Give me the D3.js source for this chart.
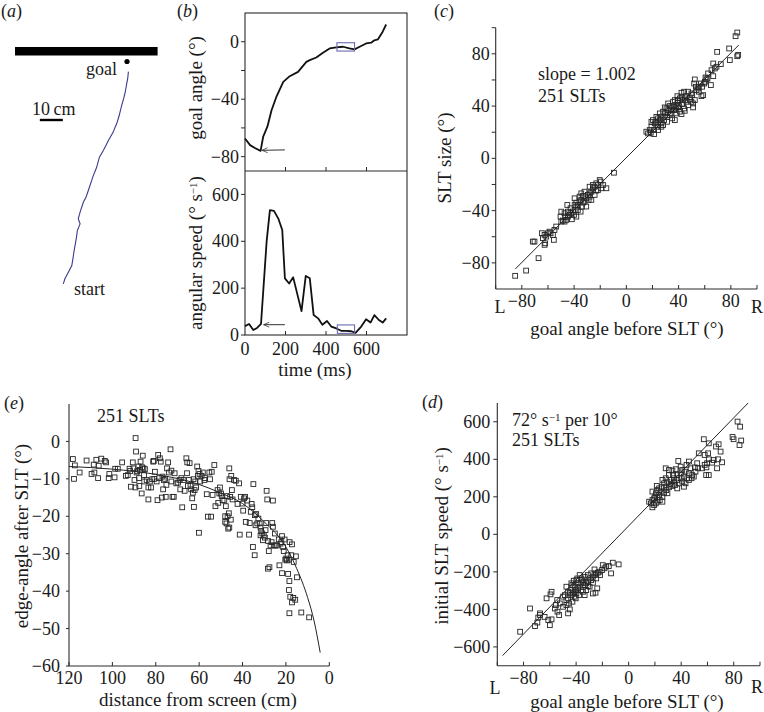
<!DOCTYPE html>
<html><head><meta charset="utf-8">
<script src="https://cdn.jsdelivr.net/npm/d3@7"></script>
<style>
body{margin:0;background:#fff}
svg text{font-family:"Liberation Serif","Times New Roman",serif;fill:#1a1a1a;font-size:18px}
svg text.title{font-size:19px}
</style>
</head><body>
<svg id="fig" width="764" height="712"></svg>
<script>
// ---------- DATA ----------
// (a) trajectory, in cm: [x along screen, distance from screen]
const trajectoryCm = [[49.3,7.0],[49.0,10.1],[48.6,12.0],[48.3,13.8],[47.9,16.0],[47.4,18.1],[46.4,21.7],[45.9,23.6],[45.3,26.1],[44.2,29.7],[43.6,31.0],[42.7,33.3],[40.6,37.0],[39.8,38.6],[38.4,41.3],[36.7,44.2],[36.2,46.0],[35.5,48.6],[33.8,52.9],[33.4,54.2],[32.6,56.5],[31.4,60.1],[30.8,61.8],[29.7,63.8],[28.3,68.1],[27.5,71.0],[28.3,73.2],[27.1,76.1],[26.8,78.5],[26.5,80.4],[25.7,84.8],[25.3,87.7],[24.7,91.3],[23.2,94.2],[21.7,97.1],[21.0,99.3]];
const screenBarCm = [0, 62];
const goalCm = [48.7, 2.6];

// (b) goal angle (deg) and angular speed (deg/s) vs time (ms)
const goalAngleSeries = [[0,-67.4],[25,-72],[49,-74],[77,-76],[90,-66],[111,-59],[131,-47.7],[156,-38],[189,-28],[221,-24],[262,-21],[303,-14],[320,-12.8],[352,-11],[385,-7.7],[418,-4.7],[451,-4],[484,-3.5],[516,-4.7],[541,-5.3],[566,-3.5],[598,-1.2],[623,-0.7],[639,1],[656,1.6],[680,7],[697,12]];
const angularSpeedSeries = [[0,38],[20,47],[41,21],[61,31],[79,47],[107,401],[123,533],[143,530],[164,498],[184,448],[197,242],[218,220],[238,246],[279,102],[300,252],[320,242],[339,85],[361,71],[382,44],[405,60],[426,36],[451,28],[475,18],[500,18],[525,16],[546,9],[574,36],[598,67],[620,53],[639,85],[661,64],[680,53],[697,71]];
const angleArrow = [[197,-75.3],[84,-75.6]];
const speedArrow = [[197,44],[92,44]];
const angleBox = [454,541,-6.5,-0.7];
const speedBox = [456,541,7,43];
const timeTicks = [0,200,400,600];
const goalAngleTicks = [-80,-60,-40,-20,0];
const goalAngleLabels = [-80,-40,0];
const speedTicks = [0,200,400,600];

// (c) SLT size vs goal angle before SLT
const slcPoints = [[84.9,96.3],[83.6,93.5],[78.7,84.1],[69.5,81.5],[85.6,79.2],[84.9,78.2],[79.2,75.2],[72.3,72.1],[66.5,72.6],[67.7,68.8],[69.0,70.1],[66.5,62.9],[60.6,61.9],[61.3,60.4],[59.6,57.3],[64.7,56.1],[58.0,54.8],[58.8,48.4],[52.4,60.4],[51.9,57.3],[53.2,54.8],[55.0,53.5],[51.1,42.0],[52.4,44.6],[49.8,49.7],[47.3,51.0],[46.0,47.6],[44.7,45.9],[43.5,44.6],[42.2,47.1],[40.9,45.9],[39.1,42.5],[38.3,40.0],[37.1,44.6],[36.3,39.0],[34.5,37.5],[33.2,40.0],[32.0,36.9],[30.7,38.2],[29.4,34.4],[28.1,35.7],[26.8,31.8],[25.6,29.3],[24.3,30.6],[23.0,28.0],[21.7,26.8],[20.4,29.3],[19.2,24.2],[17.9,21.7],[16.6,19.1],[15.3,20.4],[21.2,21.7],[23.8,24.2],[26.3,26.8],[28.9,29.3],[31.4,31.8],[34.0,34.4],[36.6,36.9],[39.6,39.0],[42.7,41.5],[46.0,43.3],[48.6,46.6],[50.4,48.4],[55.5,51.0],[57.0,57.3],[60.1,58.6],[62.1,61.1],[31.2,28.0],[35.0,30.6],[38.3,34.4],[40.9,35.7],[44.2,38.2],[47.3,40.8],[33.2,33.1],[26.8,24.2],[24.3,21.7],[21.2,18.6],[18.7,19.6],[23.0,31.8],[25.6,34.4],[29.4,39.0],[32.0,42.0],[35.8,43.3],[39.1,47.6],[42.2,50.2],[44.2,51.0],[48.6,45.1],[51.1,39.0],[55.5,54.8],[44.7,36.4],[42.2,33.9],[28.1,25.5],[24.3,25.5],[30.7,34.9],[34.5,40.0],[37.8,37.5],[40.4,40.0],[19.2,28.0],[26.3,29.8],[39.6,44.6],[37.1,29.3],[49.8,43.3],[53.7,52.2],[62.6,65.0],[65.2,67.5],[57.5,47.6],
[-9.5,-11.0],[-15.3,-22.9],[-20.4,-16.6],[-21.7,-20.4],[-23.0,-19.1],[-24.3,-21.7],[-25.6,-22.9],[-26.8,-25.5],[-28.1,-26.8],[-29.4,-28.0],[-30.7,-30.6],[-32.0,-25.5],[-33.2,-33.9],[-34.5,-31.8],[-35.8,-33.1],[-37.1,-35.7],[-38.3,-36.9],[-39.6,-39.5],[-40.9,-40.8],[-42.2,-42.0],[-43.5,-43.3],[-44.7,-44.6],[-46.0,-47.1],[-47.3,-48.4],[-48.6,-47.6],[-49.8,-40.8],[-50.4,-44.6],[-39.6,-30.6],[-38.3,-33.9],[-35.8,-29.3],[-32.0,-33.1],[-30.7,-36.9],[-28.9,-31.8],[-26.8,-31.8],[-24.3,-28.0],[-21.7,-24.2],[-19.2,-22.9],[-34.0,-36.9],[-37.1,-39.5],[-40.1,-43.3],[-42.7,-38.2],[-45.2,-35.7],[-47.3,-42.0],[-41.7,-46.6],[-44.7,-40.8],[-38.3,-44.6],[-35.0,-40.8],[-33.2,-28.8],[-28.1,-21.7],[-25.6,-20.4],[-23.0,-24.7],[-19.7,-17.8],[-17.9,-20.4],[-49.8,-48.4],[-46.8,-44.6],[-34.5,-26.8],[-39.6,-35.7],[-28.1,-29.3],
[-53.7,-52.2],[-55.0,-54.8],[-56.2,-58.6],[-58.0,-57.3],[-60.1,-57.3],[-61.3,-59.9],[-62.6,-58.6],[-64.7,-57.3],[-63.9,-61.1],[-62.1,-65.0],[-62.6,-66.2],[-55.5,-62.4],[-70.3,-63.7],[-71.6,-63.7],[-67.2,-76.4],[-76.7,-85.9],[-85.1,-89.9],[-58.8,-56.1]];
const slcFit = {slope:1.002, intercept:0.5, from:-85, to:86};
const angleTicks = [-100,-80,-60,-40,-20,0,20,40,60,80,100];
const angleLabels = [-80,-40,0,40,80];

// (e) edge-angle after SLT vs distance from screen
const edgePoints = [[118.2,-4.7],[117.3,-6.4],[117.7,-10.0],[115.1,-8.3],[111.9,-5.1],[109.6,-8.7],[108.6,-6.2],[108.3,-8.3],[107.4,-4.9],[106.6,-9.8],[106.3,-6.5],[105.1,-4.6],[103.5,-5.2],[102.9,-5.6],[101.7,-9.8],[101.4,-8.7],[98.7,-7.3],[99.0,-9.6],[97.5,-7.3],[95.5,-5.6],[93.8,-9.2],[92.9,-9.0],[92.1,-7.3],[91.8,-7.9],[91.5,-12.1],[90.6,-5.6],[90.3,-7.2],[89.8,-10.3],[89.4,-12.3],[89.3,0.9],[89.1,-2.7],[88.8,-8.3],[88.5,-7.9],[88.0,-6.7],[87.7,-9.8],[87.6,-11.9],[87.3,-7.6],[87.0,-5.4],[86.5,-13.9],[86.3,-6.9],[86.0,-3.8],[85.7,-7.2],[85.4,-9.0],[85.3,-10.7],[85.0,-7.4],[84.2,-10.3],[83.4,-15.5],[83.4,-12.3],[82.7,-10.7],[82.2,-12.3],[81.6,-10.1],[81.2,-5.4],[80.9,-5.2],[80.7,-10.0],[80.4,-8.1],[79.6,-10.7],[79.2,-15.7],[78.9,-3.6],[78.4,-9.8],[78.1,-4.5],[77.7,-5.4],[77.2,-15.0],[76.6,-12.8],[76.9,-9.4],[76.3,-10.3],[75.7,-10.0],[75.4,-14.8],[75.1,-11.6],[74.8,-7.2],[74.3,-5.6],[73.9,-8.3],[73.2,-2.1],[72.8,-7.8],[72.8,-10.7],[72.3,-14.8],[71.7,-14.8],[71.3,-8.5],[70.5,-11.2],[69.7,-11.0],[69.0,-10.3],[68.7,-12.8],[68.2,-9.8],[67.8,-17.6],[67.2,-10.3],[66.7,-13.2],[65.9,-4.5],[65.6,-8.5],[65.5,-5.6],[65.2,-11.9],[64.7,-10.3],[64.4,-5.8],[64.0,-11.9],[63.7,-12.8],[63.2,-15.2],[62.9,-13.7],[62.6,-10.1],[62.4,-17.5],[62.1,-13.0],[61.8,-10.7],[61.4,-12.3],[60.9,-6.7],[60.6,-9.2],[60.3,-7.9],[60.1,-24.4],[59.8,-8.7],[59.5,-10.7],[58.9,-9.2],[58.3,-8.3],[57.6,-10.3],[57.3,-9.8],[56.5,-14.1],[56.0,-20.1],[55.3,-8.3],[55.0,-10.1],[54.5,-20.1],[54.2,-8.1],[53.8,-14.3],[53.0,-6.3],[52.5,-17.3],[51.5,-13.0],[51.2,-16.4],[50.7,-13.9],[50.4,-12.3],[49.9,-13.9],[49.6,-14.6],[49.2,-15.7],[48.4,-15.8],[48.0,-20.0],[48.0,-21.5],[47.7,-17.3],[47.4,-21.9],[47.1,-14.6],[46.9,-20.0],[46.6,-23.3],[46.3,-19.2],[46.1,-7.2],[46.1,-23.0],[46.0,-10.1],[45.7,-14.8],[45.2,-9.2],[45.4,-20.9],[44.9,-13.0],[44.6,-15.5],[43.9,-10.3],[43.1,-10.5],[42.3,-16.7],[41.6,-11.2],[41.3,-24.9],[40.8,-14.8],[40.0,-16.6],[39.7,-18.5],[39.3,-15.2],[38.8,-14.8],[38.5,-21.5],[37.8,-15.8],[37.0,-24.9],[36.7,-21.8],[36.2,-18.8],[35.8,-16.7],[35.5,-17.6],[35.2,-28.2],[35.0,-11.4],[34.4,-30.4],[34.3,-19.7],[34.0,-22.4],[33.7,-19.4],[33.2,-21.9],[32.7,-20.6],[32.1,-21.9],[31.7,-25.1],[31.7,-23.0],[31.4,-23.9],[30.9,-24.6],[30.6,-26.4],[30.2,-25.1],[29.7,-25.7],[29.4,-23.7],[29.1,-21.8],[28.9,-13.2],[28.6,-15.5],[28.3,-34.0],[28.2,-26.6],[27.9,-29.3],[27.6,-33.6],[27.1,-27.8],[26.6,-26.9],[26.3,-21.8],[26.0,-15.8],[26.0,-22.8],[25.6,-27.8],[25.1,-24.6],[24.8,-27.8],[24.1,-27.8],[23.3,-26.2],[23.0,-33.1],[22.5,-27.3],[22.1,-26.9],[21.8,-25.3],[21.8,-35.2],[21.3,-28.2],[21.0,-29.3],[20.6,-26.2],[20.3,-31.6],[19.9,-31.3],[19.5,-31.8],[19.2,-30.4],[19.0,-35.4],[18.7,-31.6],[18.6,-39.7],[18.4,-45.9],[18.3,-26.9],[18.0,-41.5],[17.5,-30.4],[17.2,-27.5],[16.6,-41.8],[16.4,-32.2],[15.7,-42.3],[15.4,-30.7],[14.9,-36.3],[12.9,-45.7],[9.3,-47.0],[18.4,-37.3],[17.2,-43.0]];
const edgeFit = [[120,-6.7],[100,-7.4],[80,-8.8],[60,-11.5],[50,-13.8],[40,-16.6],[30,-21.5],[20,-28.2],[15,-34],[10,-41.7],[7,-48],[4.2,-56.4]];
const distTicks = [120,100,80,60,40,20,0];
const edgeTicks = [-60,-50,-40,-30,-20,-10,0];

// (d) initial SLT speed vs goal angle before SLT
const speedPoints = [[82.9,601],[84.9,574],[79.1,519],[79.9,507],[85.7,500],[84.4,476],[57.2,507],[61.0,485],[68.5,480],[70.0,441],[66.5,468],[53.4,432],[57.9,423],[60.5,432],[61.0,400],[64.8,396],[68.0,400],[71.1,384],[63.5,382],[59.7,379],[57.9,370],[52.2,379],[50.4,357],[52.9,352],[55.9,352],[59.2,357],[61.0,316],[59.0,316],[67.3,352],[45.9,388],[37.8,391],[39.6,361],[44.1,370],[28.2,352],[30.7,343],[33.3,340],[35.8,347],[40.8,343],[43.3,334],[45.9,325],[48.4,316],[49.6,308],[42.1,308],[39.6,299],[37.0,290],[34.5,299],[32.0,290],[29.5,281],[27.0,272],[25.2,254],[23.2,245],[21.9,236],[20.7,219],[20.2,201],[18.1,183],[16.9,165],[18.1,144],[19.4,156],[21.9,197],[23.7,183],[25.7,201],[27.0,219],[28.7,236],[30.7,251],[33.3,258],[35.3,263],[38.3,272],[40.8,281],[43.3,272],[45.9,290],[47.9,299],[21.4,258],[24.4,228],[28.2,251],[32.0,268],[37.0,316],[30.7,316],[25.7,290],[23.2,210],[21.9,174],[28.2,299],[33.8,316],[39.6,325],[44.6,299],[47.1,352],[50.9,334],[42.1,254],[37.0,245],[34.5,281],[29.5,219],[25.7,174],[19.4,192],[20.7,165],[15.6,174],[18.1,228],
[-7.6,-160],[-12.1,-151],[-13.4,-208],[-15.1,-169],[-17.1,-172],[-18.4,-181],[-19.7,-164],[-20.2,-190],[-21.7,-217],[-22.2,-199],[-23.4,-204],[-24.7,-235],[-24.7,-208],[-26.0,-217],[-27.2,-226],[-28.5,-244],[-29.7,-235],[-31.0,-252],[-32.3,-261],[-33.5,-270],[-34.3,-252],[-35.3,-244],[-36.0,-261],[-37.3,-279],[-38.5,-288],[-39.8,-297],[-41.1,-306],[-42.3,-315],[-43.6,-324],[-44.8,-311],[-46.1,-306],[-47.4,-279],[-48.6,-324],[-49.9,-332],[-46.1,-341],[-43.6,-297],[-41.1,-279],[-38.5,-261],[-36.0,-235],[-33.5,-226],[-31.0,-217],[-28.5,-208],[-26.0,-187],[-27.2,-258],[-29.7,-279],[-32.3,-297],[-34.8,-306],[-37.8,-324],[-40.3,-341],[-42.8,-359],[-45.4,-368],[-47.4,-350],[-39.8,-315],[-36.0,-297],[-31.0,-276],[-25.2,-311],[-27.2,-315],[-23.9,-288],[-33.5,-324],[-43.6,-261],[-41.8,-247],[-39.1,-235],[-49.9,-386],[-52.4,-368],[-54.4,-350],[-55.4,-377],[-58.7,-306],[-59.5,-320],[-62.5,-341],[-67.5,-421],[-68.8,-443],[-71.3,-489],[-75.1,-395],[-82.6,-519],[-61.2,-457],[-60.0,-484],[-58.7,-453],[-54.2,-412],[-52.9,-430],[-56.2,-395],[-47.4,-377],[-46.1,-421],[-44.8,-400],[-39.8,-244],[-37.3,-217],[-41.1,-332],[-42.8,-270],[-67.5,-430],[-64.0,-440],[-69.5,-470]];
const speedFit = {slope:7.2, intercept:45, from:-96, to:91};
const initSpeedTicks = [-600,-400,-200,0,200,400,600];

// ---------- DRAWING ----------
const svg = d3.select("#fig");
const INK = "#2b2b2b";
const fmt = v => v < 0 ? "\u2212" + Math.abs(v) : String(v);

function yAxis(scale, x, ticks, labels, opts = {}) {
  const len = opts.len ?? 4, pad = opts.pad ?? 6;
  const g = svg.append("g");
  if (opts.line !== false)
    g.append("line").attr("x1", x).attr("x2", x)
      .attr("y1", scale.range()[0]).attr("y2", scale.range()[1])
      .attr("stroke", INK).attr("stroke-width", 1.1);
  g.selectAll(".t").data(ticks).join("line")
    .attr("x1", x - len).attr("x2", x)
    .attr("y1", d => scale(d)).attr("y2", d => scale(d))
    .attr("stroke", INK).attr("stroke-width", 1);
  g.selectAll("text").data(labels).join("text")
    .attr("x", x - pad).attr("y", d => scale(d)).attr("dy", "0.34em")
    .attr("text-anchor", "end").text(fmt);
}
function xAxis(scale, y, ticks, labels, opts = {}) {
  const len = opts.len ?? 4, off = opts.off ?? 19;
  const g = svg.append("g");
  if (opts.line !== false)
    g.append("line").attr("y1", y).attr("y2", y)
      .attr("x1", scale.range()[0]).attr("x2", scale.range()[1])
      .attr("stroke", INK).attr("stroke-width", 1.1);
  g.selectAll(".t").data(ticks).join("line")
    .attr("y1", y - len).attr("y2", y)
    .attr("x1", d => scale(d)).attr("x2", d => scale(d))
    .attr("stroke", INK).attr("stroke-width", 1);
  g.selectAll("text").data(labels).join("text")
    .attr("y", y + off).attr("x", d => scale(d))
    .attr("text-anchor", "middle").text(fmt);
}
function rotLabel(x, y, parts) {
  const t = svg.append("text").attr("class", "title")
    .attr("transform", `translate(${x},${y}) rotate(-90)`)
    .attr("text-anchor", "middle");
  addParts(t, parts);
}
function addParts(t, parts) {
  parts.forEach(p => {
    if (typeof p === "string") t.append("tspan").text(p);
    else t.append("tspan").attr("font-size", "11px").attr("baseline-shift", "45%").text(p.sup);
  });
}
function xTitle(x, y, txt) {
  svg.append("text").attr("class", "title").attr("x", x).attr("y", y)
    .attr("text-anchor", "middle").text(txt);
}
function panelLetter(x, y, letter) {
  const t = svg.append("text").attr("x", x).attr("y", y);
  t.append("tspan").text("(");
  t.append("tspan").attr("font-style", "italic").text(letter);
  t.append("tspan").text(")");
}
function squares(points, sx, sy) {
  svg.append("g").selectAll("rect").data(points).join("rect")
    .attr("x", d => sx(d[0]) - 2.4).attr("y", d => sy(d[1]) - 2.4)
    .attr("width", 4.8).attr("height", 4.8)
    .attr("fill", "none").attr("stroke", "#262626").attr("stroke-width", 0.9);
}

// arrow marker (tip points along the line direction)
svg.append("defs").append("marker").attr("id", "arr").attr("viewBox", "0 0 10 10")
  .attr("refX", 9).attr("refY", 5).attr("markerWidth", 7).attr("markerHeight", 7)
  .attr("markerUnits", "userSpaceOnUse").attr("orient", "auto")
  .append("path").attr("d", "M1,1.5 L9,5 L1,8.5").attr("fill", "none")
  .attr("stroke", "#333").attr("stroke-width", 1.1);

// ----- panel (a)
panelLetter(1, 17, "a");
const ax = d3.scaleLinear().domain([0, 62]).range([15, 15 + 62 * 2.3]);
const ay = d3.scaleLinear().domain([0, 100]).range([55.5, 55.5 + 100 * 2.3]);
svg.append("rect").attr("x", ax(screenBarCm[0])).attr("width", ax(screenBarCm[1]) - ax(screenBarCm[0]))
  .attr("y", ay(-3.7)).attr("height", ay(0) - ay(-3.7)).attr("fill", "#000");
svg.append("circle").attr("cx", ax(goalCm[0])).attr("cy", ay(goalCm[1])).attr("r", 2.6).attr("fill", "#000");
svg.append("text").attr("x", 86).attr("y", 75).text("goal");
svg.append("path").datum(trajectoryCm)
  .attr("d", d3.line().x(d => ax(d[0])).y(d => ay(d[1])))
  .attr("fill", "none").attr("stroke", "#3a3a8e").attr("stroke-width", 1.1);
svg.append("text").attr("x", 32).attr("y", 115).text("10\u2009cm");
svg.append("line").attr("x1", ax(10.8)).attr("x2", ax(20.8)).attr("y1", 120).attr("y2", 120)
  .attr("stroke", "#000").attr("stroke-width", 2.4);
svg.append("text").attr("x", 74).attr("y", 295).text("start");

// ----- panel (b)
panelLetter(177, 17, "b");
const bx = d3.scaleLinear().domain([0, 800]).range([245, 407]);
const byTop = d3.scaleLinear().domain([-90, 20]).range([171, 13]);
const byBot = d3.scaleLinear().domain([0, 700]).range([335, 171]);
svg.append("rect").attr("x", 245).attr("y", 13).attr("width", 162).attr("height", 322)
  .attr("fill", "none").attr("stroke", INK).attr("stroke-width", 1.1);
svg.append("line").attr("x1", 245).attr("x2", 407).attr("y1", 171).attr("y2", 171)
  .attr("stroke", INK).attr("stroke-width", 1.1);
yAxis(byTop, 245, goalAngleTicks, goalAngleLabels, {line:false});
yAxis(byBot, 245, speedTicks, speedTicks, {line:false});
xAxis(bx, 171, [200,400,600], [], {line:false});
xAxis(bx, 335, [200,400,600], timeTicks, {line:false, off:20});
const lineB = (sy) => d3.line().x(d => bx(d[0])).y(d => sy(d[1]));
svg.append("path").datum(goalAngleSeries).attr("d", lineB(byTop))
  .attr("fill", "none").attr("stroke", "#111").attr("stroke-width", 1.8).attr("stroke-linejoin", "round");
svg.append("path").datum(angularSpeedSeries).attr("d", lineB(byBot))
  .attr("fill", "none").attr("stroke", "#111").attr("stroke-width", 1.8).attr("stroke-linejoin", "round");
[[angleArrow, byTop], [speedArrow, byBot]].forEach(([a, sy]) => {
  svg.append("line").attr("x1", bx(a[0][0])).attr("y1", sy(a[0][1])).attr("x2", bx(a[1][0])).attr("y2", sy(a[1][1]))
    .attr("stroke", "#333").attr("stroke-width", 1).attr("marker-end", "url(#arr)");
});
[[angleBox, byTop], [speedBox, byBot]].forEach(([b, sy]) => {
  svg.append("rect").attr("x", bx(b[0])).attr("width", bx(b[1]) - bx(b[0]))
    .attr("y", sy(b[3])).attr("height", sy(b[2]) - sy(b[3]))
    .attr("fill", "none").attr("stroke", "#6a6ab0").attr("stroke-width", 1.1);
});
rotLabel(202, 88, ["goal angle (°)"]);
rotLabel(202, 253, ["angular speed (° s", {sup:"\u22121"}, ")"]);
xTitle(315, 376, "time (ms)");

// ----- panel (c)
panelLetter(434, 17, "c");
const cx = d3.scaleLinear().domain([-100, 100]).range([495.7, 757]);
const cy = d3.scaleLinear().domain([-100, 100]).range([289, 27.7]);
yAxis(cy, 495.7, angleTicks.filter(d => d > -100), angleLabels);
xAxis(cx, 289, angleTicks, angleLabels, {off:18});
svg.append("line").attr("x1", cx(slcFit.from)).attr("y1", cy(slcFit.slope * slcFit.from + slcFit.intercept))
  .attr("x2", cx(slcFit.to)).attr("y2", cy(slcFit.slope * slcFit.to + slcFit.intercept))
  .attr("stroke", "#222").attr("stroke-width", 1);
squares(slcPoints, cx, cy);
svg.append("text").attr("x", 500).attr("y", 313).attr("text-anchor", "middle").text("L");
svg.append("text").attr("x", 757).attr("y", 313).attr("text-anchor", "middle").text("R");
xTitle(627, 335, "goal angle before SLT (°)");
rotLabel(451, 158, ["SLT size (°)"]);
svg.append("text").attr("x", 538).attr("y", 80).text("slope = 1.002");
svg.append("text").attr("x", 538).attr("y", 102).text("251 SLTs");

// ----- panel (e)
panelLetter(4, 409, "e");
const ex = d3.scaleLinear().domain([120, 0]).range([69, 329.3]);
const ey = d3.scaleLinear().domain([-60, 10]).range([666, 404]);
yAxis(ey, 69, edgeTicks, edgeTicks, {len:3, pad:9});
xAxis(ex, 666, distTicks, distTicks, {off:18});
svg.append("path").datum(edgeFit)
  .attr("d", d3.line().x(d => ex(d[0])).y(d => ey(d[1])).curve(d3.curveMonotoneX))
  .attr("fill", "none").attr("stroke", "#222").attr("stroke-width", 1);
squares(edgePoints, ex, ey);
svg.append("text").attr("x", 97).attr("y", 422).text("251 SLTs");
xTitle(198, 706, "distance from screen (cm)");
rotLabel(28, 536, ["edge-angle after SLT (°)"]);

// ----- panel (d)
panelLetter(422, 408, "d");
const dx = d3.scaleLinear().domain([-100, 100]).range([497.3, 760]);
const dy = d3.scaleLinear().domain([-700, 700]).range([665.7, 403]);
yAxis(dy, 497.3, initSpeedTicks, initSpeedTicks, {pad:7});
xAxis(dx, 665.7, angleTicks, angleLabels, {off:18.5});
svg.append("line").attr("x1", dx(speedFit.from)).attr("y1", dy(speedFit.slope * speedFit.from + speedFit.intercept))
  .attr("x2", dx(speedFit.to)).attr("y2", dy(speedFit.slope * speedFit.to + speedFit.intercept))
  .attr("stroke", "#222").attr("stroke-width", 1);
squares(speedPoints, dx, dy);
svg.append("text").attr("x", 495).attr("y", 694).attr("text-anchor", "middle").text("L");
svg.append("text").attr("x", 757).attr("y", 693).attr("text-anchor", "middle").text("R");
xTitle(627, 708, "goal angle before SLT (°)");
rotLabel(448, 536, ["initial SLT speed (° s", {sup:"\u22121"}, ")"]);
{
  const t = svg.append("text").attr("x", 512).attr("y", 426);
  addParts(t, ["72° s", {sup:"\u22121"}, " per 10°"]);
}
svg.append("text").attr("x", 512).attr("y", 446).text("251 SLTs");
</script>
</body></html>
